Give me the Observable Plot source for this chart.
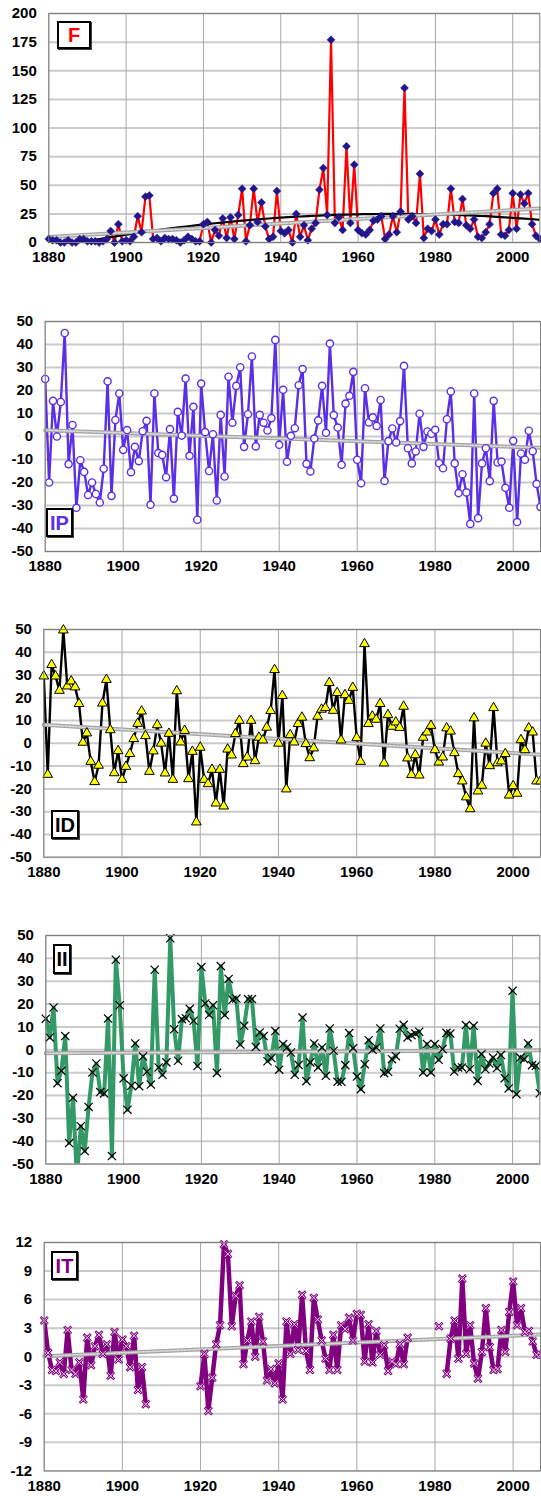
<!DOCTYPE html>
<html><head><meta charset="utf-8">
<script src="https://cdn.jsdelivr.net/npm/d3@7"></script>
<script src="https://cdn.jsdelivr.net/npm/@observablehq/plot@0.6"></script>
<style>
body{margin:0;background:#fff;font-family:"Liberation Sans",Arial,sans-serif;}
#root{position:relative;width:541px;height:1496px;overflow:hidden;background:#fff}
.panel{position:absolute;left:0}
.tag{position:absolute;border:2px solid #000;background:#fff;font-weight:bold;line-height:1;box-sizing:border-box;display:flex;align-items:center;justify-content:center;font-family:"Liberation Sans",Arial,sans-serif;box-shadow:1px 1px 0 #444}
</style></head><body><div id="root"></div>
<script>
const years = d3.range(1880, 2008);
const xTicks = [1880, 1900, 1920, 1940, 1960, 1980, 2000];

const F = [3,2,2,0,0,2,0,0,3,3,
1,1,1,0,1,3,10,0,16,1,
2,1,5,23,9,40,41,3,4,1,
4,3,3,2,0,2,5,3,1,1,
16,18,0,11,6,21,4,22,3,24,
47,1,15,47,18,35,14,3,5,45,
10,8,11,0,25,5,15,2,12,17,
46,65,24,177,17,22,11,84,17,68,
11,8,7,11,19,20,23,3,7,23,
9,27,135,20,23,17,60,4,12,10,
20,7,16,16,47,18,17,38,15,12,
20,5,4,9,16,43,47,7,6,11,
43,12,42,34,43,16,6,3];

const IP = [25,-20,15.5,0,15,45,-12,5,-31,-10.3,
-15.4,-25.4,-20,-25,-28.7,-14,24,-25.8,7.2,18.7,
-5.8,2.8,-15.5,-4.5,-10.7,2.3,6.8,-29.7,18.7,-7.2,
-8,-17.7,3.2,-27,10.7,0.4,25.2,-8.4,12.9,-36.2,
23,1.9,-15,1,-27.8,9.4,-17.4,26,6,22,
30.1,-4.5,9.7,34.8,-4.3,9.4,6,2.6,8,42,
-3.6,20.3,-11,0.3,3.6,22.3,29.3,-11.9,-15.2,-0.9,
7,22,1.6,40.4,9.3,3.9,-12.3,14.3,17.7,28.1,
-10.1,-20.3,21,6.1,8.3,4.6,15.9,-19.3,-2,3.5,
-2.6,6.7,30.7,-5.1,-11.7,-6.5,9.9,-4.5,2.2,1.2,
2.9,-11.6,-13.8,7.5,19.6,-11.7,-24.6,-16.4,-24.3,-38,
18.7,-35.5,-11.7,-5.1,-19.4,15.5,-11.3,-10.9,-22.3,-31,
-1.9,-37.2,-7.4,-10.1,2.5,-6.4,-20.6,-30.6];

const ID = [29.5,-13.7,34.5,29.5,23.2,49.7,25.1,27.3,24.7,17.4,
0.4,4.5,-8,-16.9,-9.7,17.6,28,5.9,-13,-3.3,
-15.9,-10.2,-4.6,2,8.7,14.1,3.3,-12.4,-3.4,8.1,
0,-13.1,4.3,-15.9,23,0.5,5.6,-15.6,-3.6,-34.6,
-1.8,-15.9,-17.8,-11.5,-26.3,-11.5,-27.6,-2.6,-5.2,4.2,
10,-9,-6.1,10,-7.7,2.6,1.4,7,14.3,32.3,
0,20.9,-20.1,3.7,0.5,8.6,11.4,-0.2,-6.4,-2.1,
11.8,14.9,15.6,26.6,14.4,22.2,1.4,21.3,18.8,24.5,
2.4,-8,43.7,8.6,11.9,10.5,17.4,-8.7,12.5,7.4,
9.3,6.9,16.2,-6.5,-13.8,-5.1,-14,2.6,4.9,7.8,
-2.9,-8.3,-6.1,6.7,5.3,-4.2,-13.4,-16.6,-23.6,-28.8,
11.1,-21,-18.5,0,-9.9,15.6,-8.6,-7.8,-4.6,-22.8,
-18.7,-22,1.5,-2.9,6.7,4.9,-16.6,-16.6];

const II = [13.6,5.4,18.5,-14.6,-9.2,6,-40.8,-21,-56,-33.4,
-44.3,-25,-9.9,-6,-18.5,-19.1,13.7,-46.5,39.4,19.5,
-12.5,-26.2,-15.7,2.8,-15.9,-2.9,-9.6,-15.2,35,-7.7,
-10.9,-5.5,48.8,9,-4.8,13.4,13.8,17.9,12.7,-7.1,
36.2,20.3,15.3,19.5,-10.1,36.6,15.2,31,21.9,22.4,
2.3,10.5,22.2,22.2,1.3,7.6,6,-5,-3.6,8.2,
-8.7,2.5,1,-1.2,-10.9,-6.6,14.1,-13.7,-5.5,2.8,
-7.7,1,-11.4,9.3,-0.4,-14,-14,-6.7,7.3,0.7,
-11.7,-17.2,-6.3,4.2,0,1,9.3,-10.2,-9.6,-4.1,
-2.8,9.2,10.9,5.4,6.4,7.1,7.9,-9.9,2.5,-9.9,
2.5,-4.4,0.3,7.4,7.1,-9.5,-7.7,-7.7,10.8,-8.5,
10.5,-13.6,-1.9,-8.5,-6,-3.4,-8,-2.3,-12.4,-16.9,
25.8,-19.4,-3.4,-4.1,2.8,-6.7,-7,-19];

const IT = [3.8,0.4,-1.4,-1.5,-0.6,-1.8,2.8,-1.4,-1.8,-0.6,
-4.5,2,-0.9,1.1,2.3,0.3,1.3,-2,2.6,-0.3,
1.8,1.1,-1.1,2.2,-3.5,-1.1,-5,null,null,null,
null,null,null,null,null,null,null,null,null,null,
-3.1,0.3,-5.7,-2.2,1.3,3.3,11.8,10.8,3.2,6.4,
7.5,-0.8,1.7,3.7,0,4.2,1.6,-2.5,-1.3,-2.8,
-0.7,-4.5,3.7,0.3,3.4,0.7,6.5,0.6,-1.4,6.2,
3.9,1.7,-0.2,-1.4,2.3,-1.4,3.3,2.9,4.1,1.7,
4.5,4.4,-0.5,3.4,-0.6,2.7,0.2,1.2,-1.5,-0.5,
-0.8,1.3,-0.8,2.0,null,null,null,null,null,null,
null,3.2,null,-1.8,1.9,3.8,-0.2,8.2,0.3,3.3,
-0.7,-2.3,0.5,5.1,1.0,-1.4,-1.3,2.8,0.5,4.7,
7.9,3.3,5.1,2.6,2.7,1.6,0.2,0.2];

const yTicksF = d3.range(0, 201, 25);
const yTicks50 = d3.range(-50, 51, 10);
const yTicksIT = d3.range(-12, 13, 3);

function rowsOf(arr) { return years.map((year, i) => ({year, v: arr[i]})); }

// least-squares quadratic fit of the F series (trend curve derived from data)
function quadFit(rows) {
  const pts = rows.filter(d => d.v != null);
  const x0 = d3.mean(pts, d => d.year);
  const S = Array.from({length: 5}, (_, k) => d3.sum(pts, d => (d.year - x0) ** k));
  const T = Array.from({length: 3}, (_, k) => d3.sum(pts, d => d.v * (d.year - x0) ** k));
  const A = [[S[0], S[1], S[2], T[0]], [S[1], S[2], S[3], T[1]], [S[2], S[3], S[4], T[2]]];
  for (let i = 0; i < 3; i++) {
    for (let j = i + 1; j < 3; j++) {
      const f = A[j][i] / A[i][i];
      for (let k = i; k < 4; k++) A[j][k] -= f * A[i][k];
    }
  }
  const c = [0, 0, 0];
  for (let i = 2; i >= 0; i--) {
    let s = A[i][3];
    for (let k = i + 1; k < 3; k++) s -= A[i][k] * c[k];
    c[i] = s / A[i][i];
  }
  return years.map(year => ({year, v: c[0] + c[1] * (year - x0) + c[2] * (year - x0) ** 2}));
}

function trend(rows) {
  const d = rows.filter(r => r.v != null);
  return [
    Plot.linearRegressionY(d, {x: "year", y: "v", stroke: "#a3a3a3", strokeWidth: 4, ci: 0}),
    Plot.linearRegressionY(d, {x: "year", y: "v", stroke: "#dadada", strokeWidth: 1.6, strokeDasharray: "2,1.5", ci: 0})
  ];
}

const panels = [
  {top: 13.3, bottom: 242.3, left: 48.3, right: 539.3, domain: [0, 200], ticks: yTicksF, data: rowsOf(F),
   line: {stroke: "#ff0000", strokeWidth: 2.2},
   dots: [{symbol: "diamond2", r: 3.6, fill: "#23158a", stroke: "#23158a", strokeWidth: 0.5}],
   extra: rows => [Plot.line(quadFit(rows), {x: "year", y: "v", stroke: "#000", strokeWidth: 2.2, clip: true})],
   tag: {text: "F", color: "#ff0000", left: 57, top: 21, w: 34, h: 28, fs: 20}},
  {top: 320.7, bottom: 550.7, left: 44.7, right: 540, domain: [-50, 50], ticks: yTicks50, data: rowsOf(IP),
   line: {stroke: "#5b2ee8", strokeWidth: 2.4},
   dots: [{symbol: "circle", r: 3.6, fill: "#fff", stroke: "#5b2ee8", strokeWidth: 1.4}],
   tag: {text: "IP", color: "#5b2ee8", left: 46, top: 508, w: 27, h: 29, fs: 20}},
  {top: 629, bottom: 856.7, left: 43.3, right: 540, domain: [-50, 50], ticks: yTicks50, data: rowsOf(ID),
   line: {stroke: "#000", strokeWidth: 2.4},
   dots: [{symbol: "triangle", r: 3.6, fill: "#ffff00", stroke: "#000", strokeWidth: 1}],
   tag: {text: "ID", color: "#000", left: 51, top: 810, w: 28, h: 29, fs: 20}},
  {top: 934.7, bottom: 1163.3, left: 45.3, right: 539.3, domain: [-50, 50], ticks: yTicks50, data: rowsOf(II),
   line: {stroke: "#339966", strokeWidth: 4},
   dots: [{symbol: "times", r: 3.8, fill: "none", stroke: "#000", strokeWidth: 1.2}],
   tag: {text: "II", color: "#000", left: 53, top: 944, w: 18, h: 30, fs: 20}},
  {top: 1242.3, bottom: 1470.7, left: 43.7, right: 540, domain: [-12, 12], ticks: yTicksIT, data: rowsOf(IT),
   line: {stroke: "#800080", strokeWidth: 4.5},
   dots: [{symbol: "times", r: 3.4, fill: "none", stroke: "#800080", strokeWidth: 2.6},
          {symbol: "times", r: 3.0, fill: "none", stroke: "#f4e4f4", strokeWidth: 0.9}],
   tag: {text: "IT", color: "#800080", left: 51, top: 1251, w: 27, h: 29, fs: 20}}
];

const root = document.getElementById("root");
const mt = 10, mb = 34;

for (const p of panels) {
  const h = p.bottom - p.top;
  const [lo, hi] = p.domain;
  const visible = p.data.filter(r => r.v != null && r.v >= lo && r.v <= hi);
  const marks = [
    Plot.ruleY(p.ticks, {stroke: "#cbcbcb", strokeWidth: 2}),
    Plot.ruleX(xTicks, {stroke: "#a8a8a8", strokeWidth: 1}),
    Plot.line(p.data, {x: "year", y: "v", ...p.line, clip: true}),
    ...(p.extra ? p.extra(p.data) : []),
    ...trend(p.data),
    ...p.dots.map(d => Plot.dot(visible, {x: "year", y: "v", ...d})),
    Plot.frame({stroke: "#808080", strokeWidth: 1})
  ];
  const svg = Plot.plot({
    width: 541,
    height: h + mt + mb,
    marginTop: mt,
    marginBottom: mb,
    marginLeft: p.left,
    marginRight: 541 - p.right,
    style: {fontFamily: "'Liberation Sans', Arial, sans-serif", fontSize: "15px", fontWeight: "bold", color: "#000", background: "transparent", overflow: "visible"},
    x: {domain: [1880, 2007], ticks: xTicks, tickFormat: d => String(d), tickSize: 0, tickPadding: 9, label: null},
    y: {domain: p.domain, ticks: p.ticks, tickFormat: d => String(d), tickSize: 0, tickPadding: 12, label: null},
    marks
  });
  const div = document.createElement("div");
  div.className = "panel";
  div.style.top = (p.top - mt) + "px";
  div.appendChild(svg);
  root.appendChild(div);
  const t = document.createElement("div");
  t.className = "tag";
  t.textContent = p.tag.text;
  Object.assign(t.style, {left: p.tag.left + "px", top: p.tag.top + "px", width: p.tag.w + "px", height: p.tag.h + "px", color: p.tag.color, fontSize: p.tag.fs + "px"});
  root.appendChild(t);
}
</script>
</body></html>
